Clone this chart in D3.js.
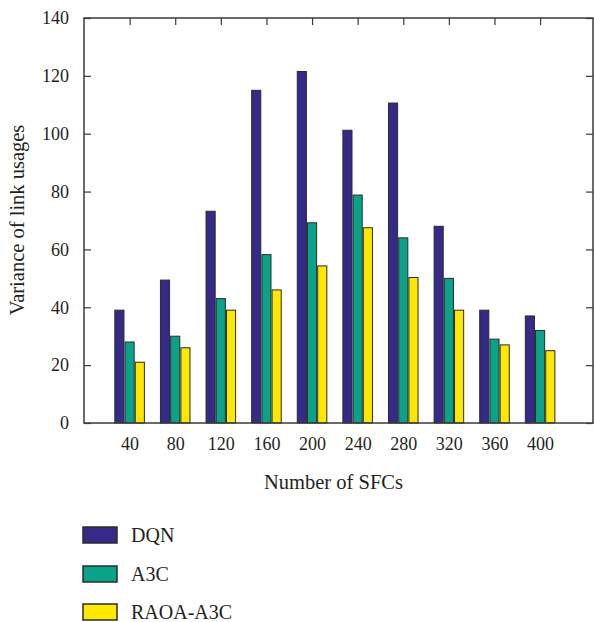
<!DOCTYPE html>
<html>
<head>
<meta charset="utf-8">
<script src="https://cdn.jsdelivr.net/npm/d3@7"></script>
<style>
  html, body { margin: 0; padding: 0; background: #fff; }
  svg { display: block; }
  text { font-family: "Liberation Serif", "DejaVu Serif", serif; fill: #231f20; }
</style>
</head>
<body>
<script>
const categories = ["40", "80", "120", "160", "200", "240", "280", "320", "360", "400"];
const seriesNames = ["DQN", "A3C", "RAOA-A3C"];
const dqn = [39, 49.4, 73.2, 115, 121.5, 101.2, 110.6, 68, 39, 37];
const a3c = [28, 30, 43, 58.2, 69.2, 78.8, 64, 50, 29, 32];
const raoa = [21, 26, 39, 46, 54.3, 67.5, 50.3, 39, 27, 25];
const yTicks = [0, 20, 40, 60, 80, 100, 120, 140];
const colors = ["#352a87", "#0aa38a", "#ffe800"];
const seriesValues = [dqn, a3c, raoa];

const W = 594, H = 622;
const mLeft = 84, mRight = 593, mTop = 18, mBottom = 423;

const svg = d3.select("body").append("svg").attr("width", W).attr("height", H);

// x: category index (1..10) on a linear scale, like MATLAB bar axes
const x = d3.scaleLinear().domain([0, 11.16]).range([mLeft, mRight]);
const y = d3.scaleLinear().domain([0, 140]).range([mBottom, mTop]);

const barStep = 0.224, barW = 0.2;

// bars
seriesValues.forEach((vals, s) => {
  svg.append("g").selectAll("rect").data(vals).enter().append("rect")
    .attr("x", (d, i) => x(i + 1 + (s - 1) * barStep - barW / 2))
    .attr("width", x(barW) - x(0))
    .attr("y", d => y(d))
    .attr("height", d => y(0) - y(d))
    .attr("fill", colors[s])
    .attr("stroke", "#2b2b2b")
    .attr("stroke-width", 1);
});

// frame
svg.append("rect").attr("x", mLeft).attr("y", mTop)
  .attr("width", mRight - mLeft).attr("height", mBottom - mTop)
  .attr("fill", "none").attr("stroke", "#3a3a3a").attr("stroke-width", 1.5);

const tickLen = 7;
// left axis
const yAxisL = d3.axisLeft(y).tickValues(yTicks).tickSize(-tickLen).tickPadding(tickLen + 8);
const gL = svg.append("g").attr("transform", `translate(${mLeft},0)`).call(yAxisL);
gL.select(".domain").remove();
gL.selectAll("line").attr("stroke", "#3a3a3a").attr("stroke-width", 1.2);
gL.selectAll("text").style("font-size", "18px").attr("fill", "#231f20")
  .style("font-family", '"Liberation Serif", serif');

// right axis (ticks only)
const yAxisR = d3.axisRight(y).tickValues(yTicks).tickSize(-tickLen).tickFormat("");
const gR = svg.append("g").attr("transform", `translate(${mRight},0)`).call(yAxisR);
gR.select(".domain").remove();
gR.selectAll("line").attr("stroke", "#3a3a3a").attr("stroke-width", 1.2);

// top axis ticks
const xIdx = categories.map((c, i) => i + 1);
const xAxisT = d3.axisTop(x).tickValues(xIdx).tickSize(-tickLen).tickFormat("");
const gT = svg.append("g").attr("transform", `translate(0,${mTop})`).call(xAxisT);
gT.select(".domain").remove();
gT.selectAll("line").attr("stroke", "#3a3a3a").attr("stroke-width", 1.2);

// bottom axis labels
const xAxisB = d3.axisBottom(x).tickValues(xIdx).tickSize(0).tickPadding(14)
  .tickFormat((d) => categories[d - 1]);
const gB = svg.append("g").attr("transform", `translate(0,${mBottom})`).call(xAxisB);
gB.select(".domain").remove();
gB.selectAll("text").style("font-size", "18px").attr("fill", "#231f20")
  .style("font-family", '"Liberation Serif", serif');

// axis titles
svg.append("text").attr("x", (mLeft + mRight) / 2 - 5).attr("y", 489)
  .attr("text-anchor", "middle").style("font-size", "20.5px").text("Number of SFCs");
svg.append("text").attr("transform", `translate(24,220) rotate(-90)`)
  .attr("text-anchor", "middle").style("font-size", "20.5px").text("Variance of link usages");

// legend
const legY = [527, 566, 604];
seriesNames.forEach((name, i) => {
  svg.append("rect").attr("x", 83).attr("y", legY[i]).attr("width", 34).attr("height", 16)
    .attr("fill", colors[i]).attr("stroke", "#2b2b2b").attr("stroke-width", 1.5);
  svg.append("text").attr("x", 131).attr("y", legY[i] + 15).style("font-size", "20px").text(name);
});
</script>
</body>
</html>
